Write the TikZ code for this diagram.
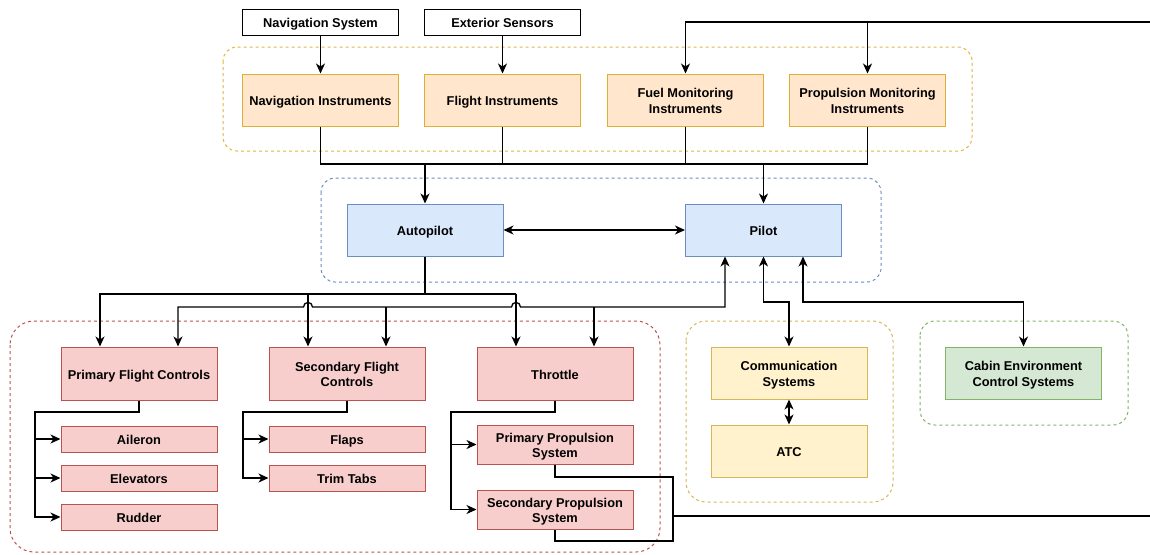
\documentclass[tikz,border=0pt]{standalone}
\usepackage{fontspec}
\setmainfont{Liberation Sans}
\usetikzlibrary{arrows.meta,calc}
\definecolor{orF}{HTML}{FFE6CC}\definecolor{orD}{HTML}{D79B00}
\definecolor{blF}{HTML}{DAE8FC}\definecolor{blD}{HTML}{6C8EBF}
\definecolor{rdF}{HTML}{F8CECC}\definecolor{rdD}{HTML}{B85450}
\definecolor{yeF}{HTML}{FFF2CC}\definecolor{yeD}{HTML}{D6B656}
\definecolor{grF}{HTML}{D5E8D4}\definecolor{grD}{HTML}{82B366}
\newcommand{\lbl}[1]{\raisebox{-2.5pt}[\height][\depth]{\begin{tabular}{@{}c@{}}#1\end{tabular}}}
\begin{document}
\begin{tikzpicture}[x=1pt,y=-1pt,
  >={Stealth[length=10pt,width=9pt,inset=3pt]},
  every node/.style={font=\bfseries\fontsize{12.8}{15.5}\selectfont},
  box/.style={draw, line width=1pt, minimum width=156pt, minimum height=52pt, inner sep=0pt},
  plain/.style={box, fill=white, draw=black, minimum height=26pt},
  orbox/.style={box, fill=orF, draw=orD!80},
  blbox/.style={box, fill=blF, draw=blD},
  rdbox/.style={box, fill=rdF, draw=rdD},
  yebox/.style={box, fill=yeF, draw=yeD},
  grbox/.style={box, fill=grF, draw=grD},
  cont/.style={line width=1pt, dash pattern=on 3pt off 3pt},
  conn/.style={line width=1.3pt}
]
\useasboundingbox (0,0) rectangle (1150,554);
% containers
\draw[cont, draw=orD!75, rounded corners=14pt] (223,47) rectangle (972,151);
\draw[cont, draw=blD, rounded corners=14pt] (321,178) rectangle (881,282);
\draw[cont, draw=rdD, rounded corners=24pt] (10,321) rectangle (660,552);
\draw[cont, draw=yeD, rounded corners=20pt] (686,321) rectangle (893,502);
\draw[cont, draw=grD, rounded corners=15pt] (920,321) rectangle (1128,425);

% nodes
\node[plain] (navsys) at (320.5,22) {\lbl{Navigation System}};
\node[plain] (extsens) at (502.5,22) {\lbl{Exterior Sensors}};
\node[orbox] (navins) at (320.5,100) {\lbl{Navigation Instruments}};
\node[orbox] (fltins) at (502.5,100) {\lbl{Flight Instruments}};
\node[orbox] (fuel) at (685.5,100) {\lbl{Fuel Monitoring\\Instruments}};
\node[orbox] (prop) at (867.5,100) {\lbl{Propulsion Monitoring\\Instruments}};
\node[blbox] (ap) at (425,230) {\lbl{Autopilot}};
\node[blbox] (pilot) at (763.5,230) {\lbl{Pilot}};
\node[rdbox, minimum height=53pt] (pfc) at (139,373.5) {\lbl{Primary Flight Controls}};
\node[rdbox, minimum height=53pt] (sfc) at (347,373.5) {\lbl{Secondary Flight\\Controls}};
\node[rdbox, minimum height=53pt] (thr) at (555,373.5) {\lbl{Throttle}};
\node[rdbox, minimum height=26pt] (ail) at (139,439) {\lbl{Aileron}};
\node[rdbox, minimum height=26pt] (elev) at (139,478) {\lbl{Elevators}};
\node[rdbox, minimum height=26pt] (rud) at (139,517) {\lbl{Rudder}};
\node[rdbox, minimum height=26pt] (flaps) at (347,439) {\lbl{Flaps}};
\node[rdbox, minimum height=26pt] (trim) at (347,478) {\lbl{Trim Tabs}};
\node[rdbox, minimum height=39pt] (pps) at (555,444.5) {\lbl{Primary Propulsion\\System}};
\node[rdbox, minimum height=39pt] (sps) at (555,509.5) {\lbl{Secondary Propulsion\\System}};
\node[yebox] (comm) at (789,373) {\lbl{Communication\\Systems}};
\node[yebox] (atc) at (789,451) {\lbl{ATC}};
\node[grbox] (cabin) at (1023.5,373) {\lbl{Cabin Environment\\Control Systems}};

% helper coordinates
\coordinate (yI) at (0,164);
\coordinate (yA) at (0,294);
\coordinate (yP) at (0,307);
\coordinate (yC) at (0,302);
\coordinate (yS) at (0,412);
\coordinate (xS1) at (35,0);
\coordinate (xS2) at (243,0);
\coordinate (xS3) at (451,0);
\coordinate (xR) at (673,0);
\coordinate (yR1) at (0,477);
\coordinate (yR2) at (0,541);
\coordinate (yR) at (0,516);
\coordinate (edgeT) at (1150,22);
\coordinate (edgeB) at (1150,516);
\coordinate (pA1) at ([xshift=-39pt]pfc.north);
\coordinate (pA2) at ([xshift=-39pt]sfc.north);
\coordinate (pA3) at ([xshift=-39pt]thr.north);
\coordinate (pB1) at ([xshift=39pt]pfc.north);
\coordinate (pB2) at ([xshift=39pt]sfc.north);
\coordinate (pB3) at ([xshift=39pt]thr.north);
\coordinate (pq1) at ([xshift=-38.5pt]pilot.south);
\coordinate (pq3) at ([xshift=39.5pt]pilot.south);

% inputs
\draw[conn,->] (navsys) -- (navins);
\draw[conn,->] (extsens) -- (fltins);
\draw[conn,->] (edgeT) -| (fuel.north);
\draw[conn,->] (prop.north |- edgeT) -- (prop.north);

% instruments bus
\draw[conn] (navins.south) -- (navins.south |- yI) -- (prop.south |- yI) -- (prop.south);
\draw[conn] (fltins.south) -- (fltins.south |- yI);
\draw[conn] (fuel.south) -- (fuel.south |- yI);
\draw[conn,->] (ap.north |- yI) -- (ap.north);
\draw[conn,->] (pilot.north |- yI) -- (pilot.north);
\draw[conn,<->] (ap) -- (pilot);

% autopilot to controls
\draw[conn,->] (ap.south) |- (pA1 |- yA) -- (pA1);
\draw[conn] (ap.south |- yA) -- (pA3 |- yA);
\draw[conn,->] (pA2 |- yA) -- (pA2);
\draw[conn,->] (pA3 |- yA) -- (pA3);

% pilot to controls with hops
\draw[conn,<->] (pq1) -- (pq1 |- yP)
  -- ($(pA3 |- yP)+(4.5,0)$) .. controls +(0,-6) and +(0,-6) .. ($(pA3 |- yP)+(-4.5,0)$)
  -- ($(pA2 |- yP)+(4.5,0)$) .. controls +(0,-6) and +(0,-6) .. ($(pA2 |- yP)+(-4.5,0)$)
  -- (pB1 |- yP) -- (pB1);
\draw[conn,->] (pB2 |- yP) -- (pB2);
\draw[conn,->] (pB3 |- yP) -- (pB3);

% pilot to comm and cabin
\draw[conn,<->] (pilot.south) -- (pilot.south |- yC) -- (comm.north |- yC) -- (comm.north);
\draw[conn,<->] (pq3) -- (pq3 |- yC) -- (cabin.north |- yC) -- (cabin.north);
\draw[conn,<->] (comm) -- (atc);

% sub-branches
\draw[conn,->] (pfc.south) |- (xS1 |- yS) |- (rud.west);
\draw[conn,->] (xS1 |- ail.west) -- (ail.west);
\draw[conn,->] (xS1 |- elev.west) -- (elev.west);
\draw[conn,->] (sfc.south) |- (xS2 |- yS) |- (trim.west);
\draw[conn,->] (xS2 |- flaps.west) -- (flaps.west);
\draw[conn,->] (thr.south) |- (xS3 |- yS) |- (sps.west);
\draw[conn,->] (xS3 |- pps.west) -- (pps.west);

% propulsion outputs
\draw[conn] (pps.south) |- (xR |- yR1) -- (xR |- yR2) -| (sps.south);
\draw[conn] (xR |- yR) -- (edgeB);
\end{tikzpicture}
\end{document}
